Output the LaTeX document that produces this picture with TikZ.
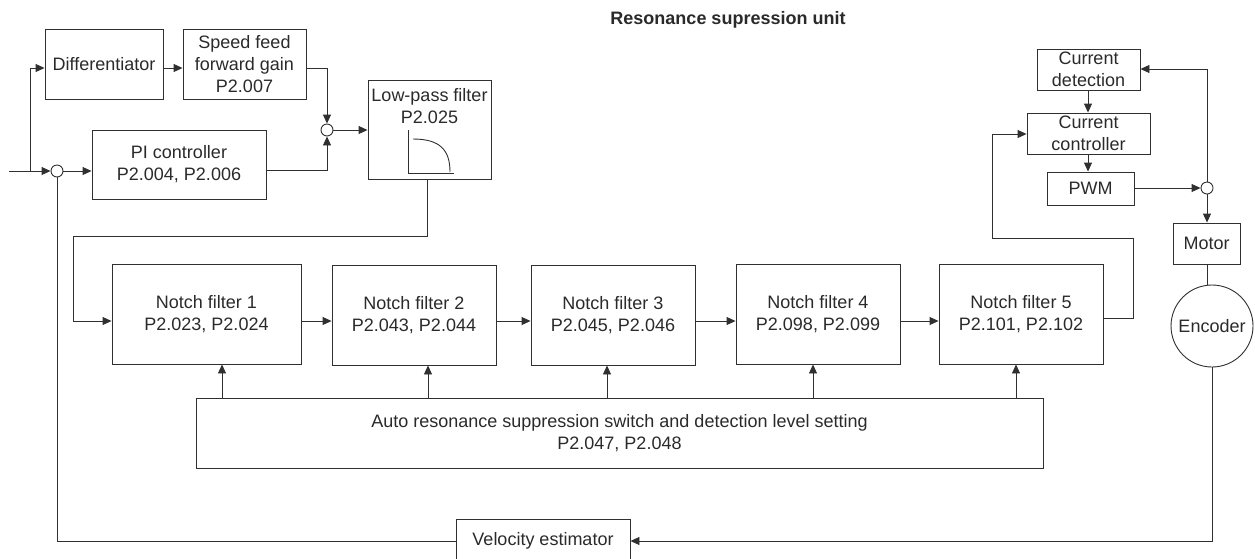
\documentclass[tikz,border=0pt]{standalone}
\usepackage{fontspec}
\setmainfont{Liberation Sans}
\usetikzlibrary{arrows.meta,calc}
\definecolor{ln}{HTML}{303030}
\definecolor{tx}{HTML}{2a2a2a}
\begin{document}
\begin{tikzpicture}[x=1pt,y=-1pt,
  line width=0.9pt, draw=ln,
  every node/.style={font=\fontsize{18}{22}\selectfont, text=tx, align=center, inner sep=0pt},
  blk/.style={draw=ln, line width=0.9pt, rectangle},
  sumc/.style={draw=ln, line width=0.9pt, circle, minimum size=12pt, fill=white},
  arr/.style={-{Triangle[length=9pt,width=8pt]}, draw=ln},
  ln/.style={draw=ln}]
\useasboundingbox (0,0) rectangle (1255,558);
% title
\node[font=\fontsize{18}{21}\selectfont\bfseries] (title) at (728,20) {Resonance supression unit};
% top blocks
\node[blk, minimum width=118pt, minimum height=70pt] (diff) at (104,64) {Differentiator};
\node[blk, minimum width=123pt, minimum height=70pt] (sff) at (244.5,64) {Speed feed\\forward gain\\P2.007};
\node[blk, minimum width=174pt, minimum height=69pt] (pi) at (179,164.5) {PI controller\\P2.004, P2.006};
\node[sumc] (c1) at (57,171) {};
\node[sumc] (c2) at (327,130) {};
\node[blk, minimum width=123pt, minimum height=99pt] (lpf) at (429.5,129.5) {};
\node (lpft) at (429.5,106) {Low-pass filter\\P2.025};
\draw[ln] (408,130) -- (408,173) -- (454,173);
\draw[ln] (413,139) .. controls (440,139) and (450,150) .. (450,172);
% input
\coordinate (in) at (9,171);
\coordinate (br) at (30,171);
\draw[arr] (in) -- (c1.west);
\draw[arr] (br) |- (diff.west |- 0,68);
\draw[arr] (c1.east) -- (c1.east -| pi.west);
\draw[arr] (diff.east |- 0,68) -- (sff.west |- 0,68);
\draw[arr] (sff.east |- 0,68) -| (c2.north);
\draw[arr] (pi.east |- 0,170) -| (c2.south);
\draw[arr] (c2.east) -- (c2.east -| lpf.west);
% notch filters
\node[blk, minimum width=189pt, minimum height=100pt] (n1) at (206.5,314) {Notch filter 1\\P2.023, P2.024};
\node[blk, minimum width=164pt, minimum height=100pt] (n2) at (414,315) {Notch filter 2\\P2.043, P2.044};
\node[blk, minimum width=164pt, minimum height=100pt] (n3) at (613,315) {Notch filter 3\\P2.045, P2.046};
\node[blk, minimum width=164pt, minimum height=100pt] (n4) at (818,314) {Notch filter 4\\P2.098, P2.099};
\node[blk, minimum width=164pt, minimum height=100pt] (n5) at (1021,314) {Notch filter 5\\P2.101, P2.102};
\node[blk, minimum width=847pt, minimum height=70pt] (auto) at (619.5,433) {Auto resonance suppression switch and detection level setting\\P2.047, P2.048};
\coordinate (l1) at (427,236);
\coordinate (l2) at (73,236);
\draw[arr] (lpf.south -| l1) -- (l1) -- (l2) |- (n1.west |- 0,321);
\draw[arr] (n1.east |- 0,321) -- (n2.west |- 0,321);
\draw[arr] (n2.east |- 0,321) -- (n3.west |- 0,321);
\draw[arr] (n3.east |- 0,321) -- (n4.west |- 0,321);
\draw[arr] (n4.east |- 0,321) -- (n5.west |- 0,321);
\draw[arr] (auto.north -| 222,0) -- (n1.south -| 222,0);
\draw[arr] (auto.north -| 428,0) -- (n2.south -| 428,0);
\draw[arr] (auto.north -| 607,0) -- (n3.south -| 607,0);
\draw[arr] (auto.north -| 813,0) -- (n4.south -| 813,0);
\draw[arr] (auto.north -| 1016,0) -- (n5.south -| 1016,0);
% current loop
\node[blk, minimum width=103pt, minimum height=41pt] (cd) at (1088.5,69.5) {Current\\detection};
\node[blk, minimum width=123pt, minimum height=41pt] (cc) at (1088.5,133.5) {Current\\controller};
\node[blk, minimum width=87pt, minimum height=33pt] (pwm) at (1090.5,188.5) {PWM};
\node[sumc] (c3) at (1207,188) {};
\node[blk, minimum width=67pt, minimum height=41pt] (motor) at (1206.5,243.5) {Motor};
\node[draw=ln, line width=0.9pt, circle, minimum size=82pt] (enc) at (1212,326) {Encoder};
\coordinate (r1) at (1133,318);
\coordinate (r2) at (1133,238);
\coordinate (r3) at (992,238);
\draw[arr] (n5.east |- r1) -- (r1) -- (r2) -- (r3) |- (cc.west |- 0,134);
\draw[arr] (cd.south -| 1088,0) -- (cc.north -| 1088,0);
\draw[arr] (cc.south -| 1088,0) -- (pwm.north -| 1088,0);
\draw[arr] (pwm.east |- c3) -- (c3.west);
\draw[arr] (c3.north) |- (cd.east |- 0,69);
\draw[arr] (c3.south) -- (motor.north -| c3);
\draw[ln] (motor.south -| 1207,0) -- (enc.north -| 1207,0);
% velocity estimator
\node[blk, minimum width=174pt, minimum height=44pt] (vel) at (543,541) {Velocity estimator};
\coordinate (e1) at (1212,541);
\coordinate (v1) at (57,541);
\draw[arr] (enc.south) -- (e1) -- (vel.east);
\draw[ln] (vel.west) -- (v1) -- (c1.south);
\end{tikzpicture}
\end{document}
